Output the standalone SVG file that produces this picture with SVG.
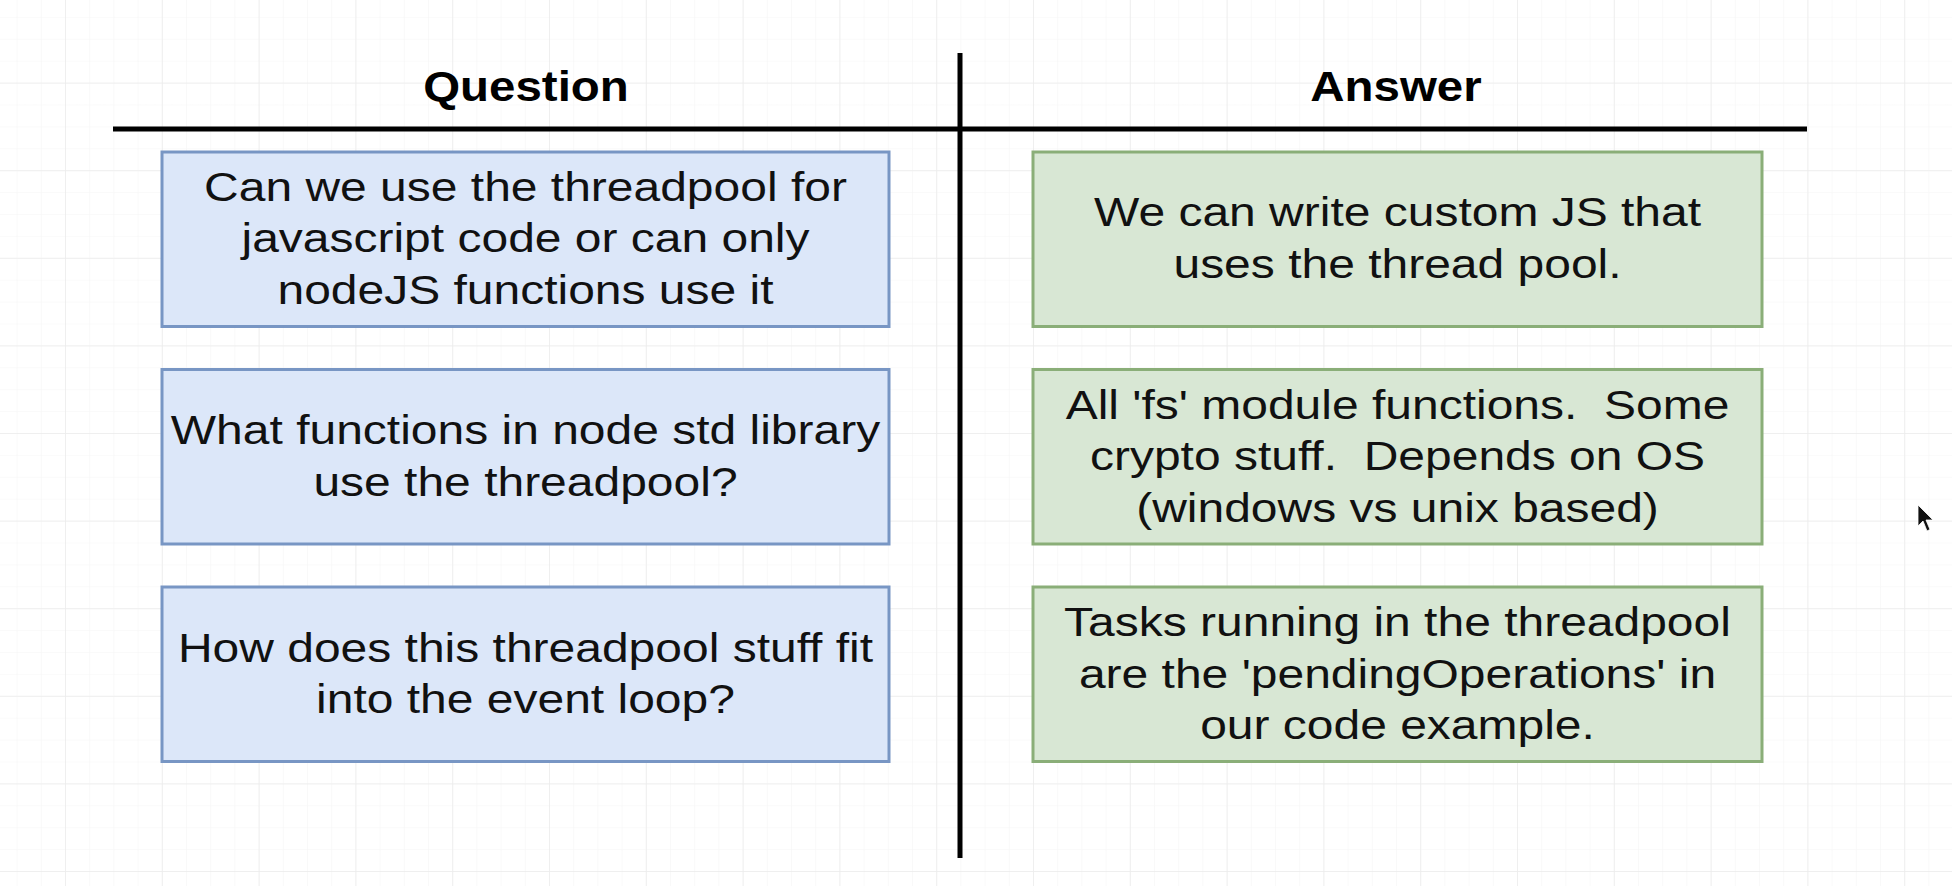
<svg xmlns="http://www.w3.org/2000/svg" width="1952" height="886" viewBox="0 0 1952 886">
  <style>
    .hdr { font-family: "Liberation Sans", Arial, Helvetica, sans-serif; font-weight: bold; font-size: 42px; fill: #000; text-anchor: middle; }
    .txt { font-family: "Liberation Sans", Arial, Helvetica, sans-serif; font-size: 40.5px; fill: #111; text-anchor: middle; white-space: pre; }
    .q { fill: #dce7f9; stroke: #7896c4; stroke-width: 3; }
    .a { fill: #d8e7d4; stroke: #8aae78; stroke-width: 3; }
    .rule { stroke: #000; stroke-width: 5; fill: none; }
  </style>
  <defs>
    <pattern id="minor" x="65" y="82.6" width="24.2" height="21.9" patternUnits="userSpaceOnUse">
      <path d="M0 0 V21.9 M0 0 H24.2" stroke="#f6f6f6" stroke-width="1.2" fill="none"/>
    </pattern>
    <pattern id="major" x="65" y="82.6" width="96.8" height="87.6" patternUnits="userSpaceOnUse">
      <path d="M0 0 V87.6 M0 0 H96.8" stroke="#ececec" stroke-width="1.5" fill="none"/>
    </pattern>
  </defs>
  <rect width="1952" height="886" fill="#ffffff"/>
  <rect width="1952" height="886" fill="url(#minor)"/>
  <rect width="1952" height="886" fill="url(#major)"/>

  <g id="connectors">
    <line class="rule" x1="113" y1="129" x2="1807" y2="129"/>
    <line class="rule" x1="960" y1="53" x2="960" y2="858"/>
  </g>

  <g id="header-question" transform="translate(526,0) scale(1.13,1)">
    <text class="hdr" x="0" y="101">Question</text>
  </g>
  <g id="header-answer" transform="translate(1396,0) scale(1.13,1)">
    <text class="hdr" x="0" y="101">Answer</text>
  </g>

  <g id="q1">
    <rect class="q" x="162" y="152" width="727" height="174.5"/>
    <g transform="translate(525.5,0) scale(1.185,1)">
      <text class="txt" x="0" y="201">Can we use the threadpool for</text>
      <text class="txt" x="0" y="252.5">javascript code or can only</text>
      <text class="txt" x="0" y="304">nodeJS functions use it</text>
    </g>
  </g>
  <g id="q2">
    <rect class="q" x="162" y="369.5" width="727" height="174.5"/>
    <g transform="translate(525.5,0) scale(1.185,1)">
      <text class="txt" x="0" y="444.5">What functions in node std library</text>
      <text class="txt" x="0" y="496">use the threadpool?</text>
    </g>
  </g>
  <g id="q3">
    <rect class="q" x="162" y="587" width="727" height="174.5"/>
    <g transform="translate(525.5,0) scale(1.185,1)">
      <text class="txt" x="0" y="662">How does this threadpool stuff fit</text>
      <text class="txt" x="0" y="713.5">into the event loop?</text>
    </g>
  </g>

  <g id="a1">
    <rect class="a" x="1033" y="152" width="729" height="174.5"/>
    <g transform="translate(1397.5,0) scale(1.185,1)">
      <text class="txt" x="0" y="226.5">We can write custom JS that</text>
      <text class="txt" x="0" y="278">uses the thread pool.</text>
    </g>
  </g>
  <g id="a2">
    <rect class="a" x="1033" y="369.5" width="729" height="174.5"/>
    <g transform="translate(1397.5,0) scale(1.185,1)">
      <text class="txt" x="0" y="418.75">All 'fs' module functions.  Some</text>
      <text class="txt" x="0" y="470.25">crypto stuff.  Depends on OS</text>
      <text class="txt" x="0" y="521.75">(windows vs unix based)</text>
    </g>
  </g>
  <g id="a3">
    <rect class="a" x="1033" y="587" width="729" height="174.5"/>
    <g transform="translate(1397.5,0) scale(1.185,1)">
      <text class="txt" x="0" y="636.5">Tasks running in the threadpool</text>
      <text class="txt" x="0" y="688">are the 'pendingOperations' in</text>
      <text class="txt" x="0" y="739.5">our code example.</text>
    </g>
  </g>

  <path d="M1918 505 L1918 526 L1923 521 L1927 531 L1930 529.5 L1926 520 L1933 520 Z" fill="#111" stroke="#fff" stroke-width="0.8"/>
</svg>
